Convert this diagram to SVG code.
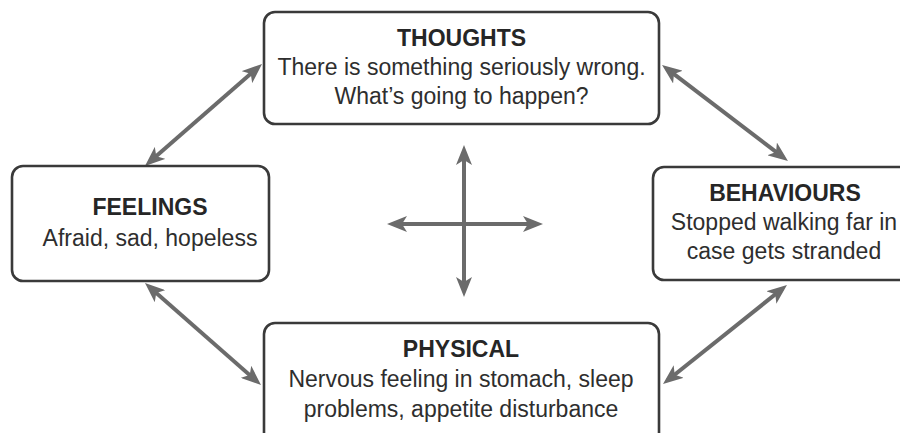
<svg xmlns="http://www.w3.org/2000/svg" width="900" height="433" viewBox="0 0 900 433">
  <style>
    .box { fill: #ffffff; stroke: #3a3a3a; stroke-width: 2.6; }
    .title { font-family: "Liberation Sans", Arial, sans-serif; font-weight: bold; font-size: 23px; fill: #262626; text-anchor: middle; }
    .body { font-family: "Liberation Sans", Arial, sans-serif; font-size: 23px; fill: #2e2e2e; text-anchor: middle; }
    .link { stroke: #6b6b6b; stroke-width: 4; fill: none; marker-start: url(#head); marker-end: url(#head); }
  </style>
  <defs>
    <!-- barbed arrowhead, tip sits 6px beyond the line end -->
    <marker id="head" viewBox="0 0 20 16" refX="14" refY="8" markerWidth="20" markerHeight="16" markerUnits="userSpaceOnUse" orient="auto-start-reverse">
      <path d="M0,0 L20,8 L0,16 L5,8 Z" fill="#6b6b6b"/>
    </marker>
  </defs>

  <rect width="900" height="433" fill="#ffffff"/>

  <g id="connectors">
    <!-- thoughts <-> feelings -->
    <line class="link" x1="257.5" y1="67.9" x2="149.5" y2="162.1"/>
    <!-- thoughts <-> behaviours -->
    <line class="link" x1="666.8" y1="68.6" x2="783.2" y2="157.4"/>
    <!-- feelings <-> physical -->
    <line class="link" x1="149.5" y1="287" x2="256.5" y2="381"/>
    <!-- behaviours <-> physical -->
    <line class="link" x1="782.3" y1="288.7" x2="667.7" y2="380.3"/>
    <!-- central cross -->
    <line class="link" x1="464" y1="151" x2="464" y2="291"/>
    <line class="link" x1="393" y1="224" x2="537" y2="224"/>
  </g>

  <g id="thoughts">
    <rect class="box" x="264" y="12" width="395" height="112" rx="11"/>
    <text class="title" x="461.5" y="46">THOUGHTS</text>
    <text class="body" x="461.5" y="75">There is something seriously wrong.</text>
    <text class="body" x="461.5" y="104">What’s going to happen?</text>
  </g>

  <g id="feelings">
    <rect class="box" x="12" y="166" width="257" height="115" rx="11"/>
    <text class="title" x="150" y="215">FEELINGS</text>
    <text class="body" x="150" y="246">Afraid, sad, hopeless</text>
  </g>

  <g id="behaviours">
    <rect class="box" x="653" y="167" width="265" height="113" rx="11"/>
    <text class="title" x="785" y="201">BEHAVIOURS</text>
    <text class="body" x="784" y="230">Stopped walking far in</text>
    <text class="body" x="784" y="259">case gets stranded</text>
  </g>

  <g id="physical">
    <rect class="box" x="264" y="323" width="395" height="125" rx="11"/>
    <text class="title" x="461" y="357">PHYSICAL</text>
    <text class="body" x="461" y="387">Nervous feeling in stomach, sleep</text>
    <text class="body" x="461" y="417">problems, appetite disturbance</text>
  </g>
</svg>
